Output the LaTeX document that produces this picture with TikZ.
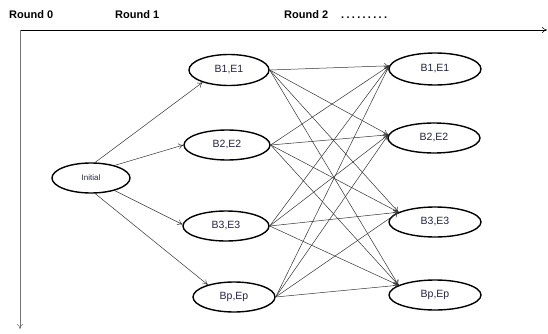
\documentclass[tikz,border=0pt]{standalone}
\usepackage{fontspec}
\setmainfont{Liberation Sans}
\usetikzlibrary{arrows.meta,shapes.geometric}
\definecolor{nodetext}{RGB}{35,35,70}
\newcommand{\dotrow}{.\hspace{2.3pt}.\hspace{2.3pt}.\hspace{2.3pt}.\hspace{2.3pt}.\hspace{2.3pt}.\hspace{2.3pt}.\hspace{2.3pt}.\hspace{2.3pt}.}
\begin{document}
\begin{tikzpicture}[x=1pt,y=-1pt,
  state/.style={draw, ellipse, line width=1.4pt, minimum height=30pt, inner sep=0pt,
    font=\fontsize{10.5}{12}\selectfont, text=nodetext},
  link/.style={-{To[length=5pt,width=6pt]}, line width=0.5pt, draw=black!80},
  axis/.style={-{To[length=5pt,width=6pt]}, line width=0.6pt},
  roundlbl/.style={font=\bfseries\fontsize{11}{13}\selectfont, anchor=base west, inner sep=0pt}]
\useasboundingbox (0,0) rectangle (548,334);

% round headings
\node[roundlbl] (h0) at (9,19) {Round 0};
\node[roundlbl] (h1) at (115,19) {Round 1};
\node[roundlbl] (h2) at (284,19) {Round 2\hspace{13pt}\dotrow};

% axes
\coordinate (o) at (20,30);
\coordinate (xe) at (547,30);
\coordinate (ye) at (20,329);
\draw[axis] (o) -- (xe);
\draw[axis, draw=black!55] (o) -- (ye);

% states
\node[state, minimum width=78pt, font=\fontsize{8}{10}\selectfont] (init) at (91,178) {Initial};

\node[state, minimum width=80pt, minimum height=31pt] (l1) at (229,70) {B1,E1};
\node[state, minimum width=86pt] (l2) at (227,145) {B2,E2};
\node[state, minimum width=86pt] (l3) at (226,226) {B3,E3};
\node[state, minimum width=82pt] (l4) at (234,297) {Bp,Ep};

\node[state, minimum width=92pt, minimum height=32pt] (r1) at (435,69) {B1,E1};
\node[state, minimum width=92pt] (r2) at (434,138) {B2,E2};
\node[state, minimum width=92pt] (r3) at (435,222) {B3,E3};
\node[state, minimum width=92pt] (r4) at (435,295) {Bp,Ep};

% round 0 -> round 1
\draw[link] (init.75) -- (l1.205);
\draw[link] (init.28) -- (l2.west);
\draw[link] (init.-28) -- (l3.178);
\draw[link] (init.-75) -- (l4.155);

% round 1 -> round 2
\foreach \s in {l1,l2,l3,l4}{
  \draw[link] (\s.east) -- (r1.176);
  \draw[link] (\s.east) -- (r2.176);
  \draw[link] (\s.east) -- (r3.165);
  \draw[link] (\s.east) -- (r4.165);
}
\end{tikzpicture}
\end{document}
